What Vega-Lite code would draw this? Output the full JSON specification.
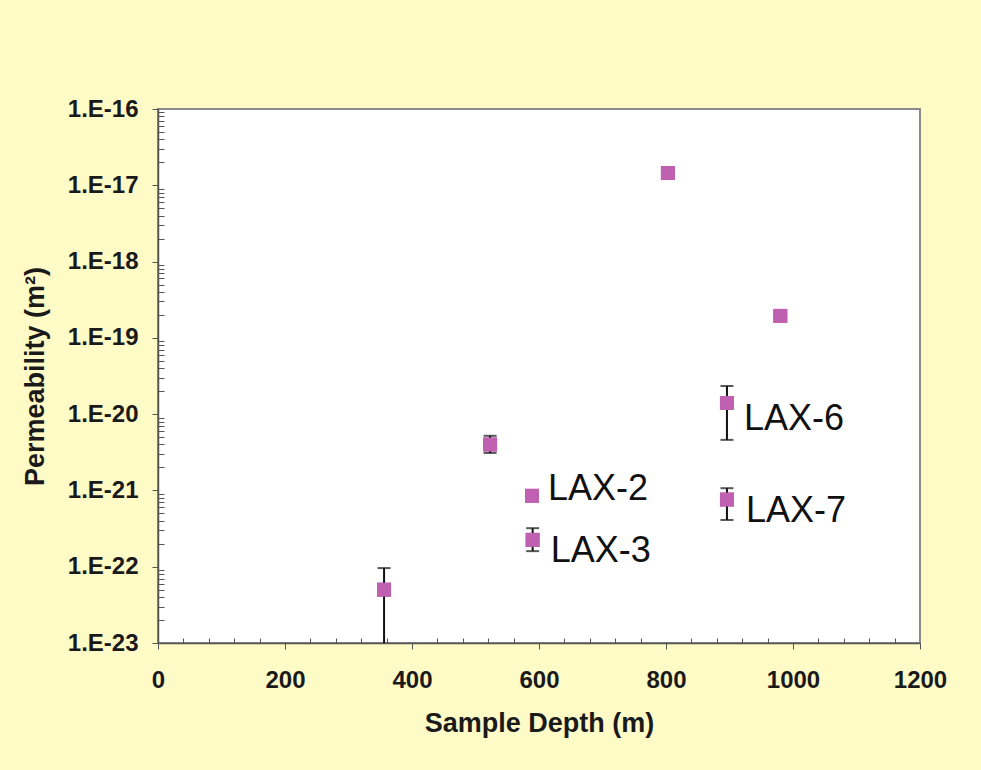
{
  "$schema": "https://vega.github.io/schema/vega-lite/v6.json",
  "width": 762,
  "height": 534,
  "autosize": {"type": "none"},
  "padding": {"left": 158, "top": 109, "right": 61, "bottom": 127},
  "background": "#fffbc6",
  "config": {
    "view": {"fill": "white", "stroke": "#8a8a8a", "strokeWidth": 2},
    "font": "Liberation Sans",
    "axis": {
      "labelFont": "Liberation Sans",
      "labelFontWeight": "bold",
      "labelFontSize": 24,
      "labelColor": "#1a1a1a",
      "titleFont": "Liberation Sans",
      "titleFontWeight": "bold",
      "titleFontSize": 27,
      "titleColor": "#1a1a1a",
      "domainColor": "#555555",
      "domainWidth": 1.5,
      "tickColor": "#555555",
      "tickWidth": 1,
      "grid": false,
      "labelOverlap": false,
      "labelFlush": false
    }
  },
  "data": {
    "values": [
      {"depth": 356, "k": 5e-23, "lo": 9e-24, "hi": 9.6e-23},
      {"depth": 523, "k": 4e-21, "lo": 3.1e-21, "hi": 5.2e-21},
      {"depth": 589, "k": 8.5e-22, "lo": 8.0e-22, "hi": 9.0e-22, "label": "LAX-2"},
      {"depth": 590, "k": 2.25e-22, "lo": 1.6e-22, "hi": 3.2e-22, "label": "LAX-3"},
      {"depth": 803, "k": 1.45e-17},
      {"depth": 980, "k": 1.94e-19, "lo": 1.85e-19, "hi": 2.03e-19},
      {"depth": 896, "k": 1.4e-20, "lo": 4.6e-21, "hi": 2.34e-20, "label": "LAX-6"},
      {"depth": 896, "k": 7.6e-22, "lo": 4.1e-22, "hi": 1.07e-21, "label": "LAX-7"}
    ]
  },
  "encoding": {
    "x": {
      "field": "depth", "type": "quantitative",
      "title": "Sample Depth (m)",
      "scale": {"domain": [0, 1200], "nice": false},
      "axis": {
        "values": [0, 40, 80, 120, 160, 200, 240, 280, 320, 360, 400, 440, 480, 520, 560, 600, 640, 680, 720, 760, 800, 840, 880, 920, 960, 1000, 1040, 1080, 1120, 1160, 1200],
        "labelExpr": "datum.value % 200 == 0 ? '' + datum.value : ''",
        "tickSize": {"condition": {"test": "datum.value % 200 == 0", "value": 6}, "value": -5},
        "labelPadding": 19,
        "titlePadding": 18
      }
    },
    "y": {
      "field": "k", "type": "quantitative",
      "title": "Permeability (m²)",
      "scale": {"type": "log", "domain": [1e-23, 1e-16], "nice": false},
      "axis": {
        "values": [1e-23, 2e-23, 3e-23, 4e-23, 5e-23, 6e-23, 7e-23, 8e-23, 9e-23,
                   1e-22, 2e-22, 3e-22, 4e-22, 5e-22, 6e-22, 7e-22, 8e-22, 9e-22,
                   1e-21, 2e-21, 3e-21, 4e-21, 5e-21, 6e-21, 7e-21, 8e-21, 9e-21,
                   1e-20, 2e-20, 3e-20, 4e-20, 5e-20, 6e-20, 7e-20, 8e-20, 9e-20,
                   1e-19, 2e-19, 3e-19, 4e-19, 5e-19, 6e-19, 7e-19, 8e-19, 9e-19,
                   1e-18, 2e-18, 3e-18, 4e-18, 5e-18, 6e-18, 7e-18, 8e-18, 9e-18,
                   1e-17, 2e-17, 3e-17, 4e-17, 5e-17, 6e-17, 7e-17, 8e-17, 9e-17,
                   1e-16],
        "labelExpr": "abs(log(datum.value)/LN10 - round(log(datum.value)/LN10)) < 0.001 ? '1.E' + round(log(datum.value)/LN10) : ''",
        "tickSize": {"condition": {"test": "abs(log(datum.value)/LN10 - round(log(datum.value)/LN10)) < 0.001", "value": 6}, "value": -6},
        "labelPadding": 14,
        "titlePadding": 18
      }
    }
  },
  "layer": [
    {
      "mark": {"type": "point", "shape": "square", "filled": true, "size": 196, "color": "#c060b0", "opacity": 1}
    },
    {
      "transform": [{"filter": "isValid(datum.lo)"}],
      "mark": {"type": "rule", "color": "#111111", "strokeWidth": 2, "clip": true},
      "encoding": {
        "y": {"field": "lo", "type": "quantitative", "title": "Permeability (m²)"},
        "y2": {"field": "hi"}
      }
    },
    {
      "transform": [{"filter": "isValid(datum.lo)"}],
      "mark": {"type": "tick", "orient": "horizontal", "color": "#111111", "size": 13, "thickness": 2, "clip": true},
      "encoding": {
        "y": {"field": "lo", "type": "quantitative", "title": "Permeability (m²)"}
      }
    },
    {
      "transform": [{"filter": "isValid(datum.hi)"}],
      "mark": {"type": "tick", "orient": "horizontal", "color": "#111111", "size": 13, "thickness": 2, "clip": true},
      "encoding": {
        "y": {"field": "hi", "type": "quantitative", "title": "Permeability (m²)"}
      }
    },
    {
      "mark": {"type": "point", "shape": "square", "filled": true, "size": 196, "color": "#c060b0", "opacity": 1}
    },
    {
      "transform": [{"filter": "datum.label == 'LAX-2'"}],
      "mark": {"type": "text", "align": "left", "baseline": "middle", "dx": 16, "dy": -7, "fontSize": 36, "font": "Liberation Sans", "color": "#111111"},
      "encoding": {"text": {"field": "label"}}
    },
    {
      "transform": [{"filter": "datum.label == 'LAX-3'"}],
      "mark": {"type": "text", "align": "left", "baseline": "middle", "dx": 18, "dy": 11, "fontSize": 36, "font": "Liberation Sans", "color": "#111111"},
      "encoding": {"text": {"field": "label"}}
    },
    {
      "transform": [{"filter": "datum.label == 'LAX-6'"}],
      "mark": {"type": "text", "align": "left", "baseline": "middle", "dx": 17, "dy": 16, "fontSize": 36, "font": "Liberation Sans", "color": "#111111"},
      "encoding": {"text": {"field": "label"}}
    },
    {
      "transform": [{"filter": "datum.label == 'LAX-7'"}],
      "mark": {"type": "text", "align": "left", "baseline": "middle", "dx": 19, "dy": 11, "fontSize": 36, "font": "Liberation Sans", "color": "#111111"},
      "encoding": {"text": {"field": "label"}}
    }
  ]
}
